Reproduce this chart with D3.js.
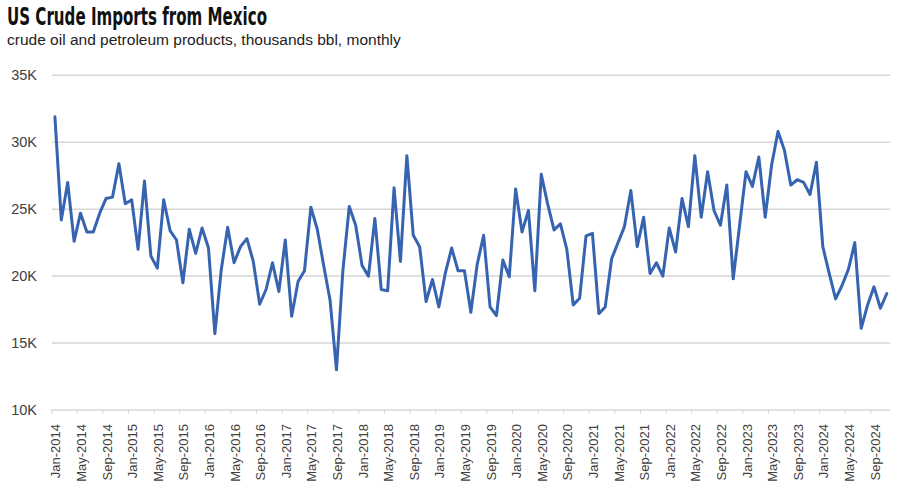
<!DOCTYPE html>
<html>
<head>
<meta charset="utf-8">
<script src="https://cdn.jsdelivr.net/npm/d3@7/dist/d3.min.js"></script>
<style>
  html, body { margin: 0; padding: 0; background: #fff; }
  svg { display: block; }
</style>
</head>
<body>
<svg id="chart" width="900" height="496"></svg>
<script>
// ---- data (thousands bbl, monthly, Jan-2014 .. Nov-2024) ----
const monthNames = ["Jan","Feb","Mar","Apr","May","Jun","Jul","Aug","Sep","Oct","Nov","Dec"];
const startYear = 2014;
const values = [
  31.9, 24.2, 27.0, 22.6, 24.7, 23.3, 23.3, 24.7, 25.8, 25.9, 28.4, 25.4,
  25.7, 22.0, 27.1, 21.5, 20.6, 25.7, 23.4, 22.7, 19.5, 23.5, 21.7, 23.6,
  22.1, 15.7, 20.5, 23.65, 21.0, 22.2, 22.8, 21.1, 17.9, 19.0, 21.0, 18.85,
  22.7, 17.0, 19.6, 20.4, 25.15, 23.5, 20.8, 18.2, 13.0, 20.4, 25.2, 23.8,
  20.8, 20.0, 24.3, 19.0, 18.9, 26.6, 21.1, 29.0, 23.05, 22.2, 18.1, 19.75,
  17.7, 20.2, 22.1, 20.4, 20.4, 17.3, 20.9, 23.05, 17.7, 17.05, 21.2, 19.95,
  26.5, 23.3, 24.9, 18.9, 27.6, 25.4, 23.45, 23.9, 22.0, 17.85, 18.35, 23.0,
  23.2, 17.2, 17.7, 21.3, 22.5, 23.7, 26.4, 22.2, 24.4, 20.2, 21.0, 20.0,
  23.6, 21.8, 25.8, 23.7, 29.0, 24.4, 27.8, 24.9, 23.8, 26.8, 19.8, 23.8,
  27.8, 26.7, 28.9, 24.4, 28.3, 30.8, 29.4, 26.8, 27.2, 27.0, 26.1, 28.5,
  22.2, 20.2, 18.3, 19.3, 20.5, 22.5, 16.1, 17.85, 19.2, 17.6, 18.7
];
const categories = values.map((v, i) => monthNames[i % 12] + "-" + (startYear + Math.floor(i / 12)));
const yTicks = [10, 15, 20, 25, 30, 35];
const yTickLabels = ["10K", "15K", "20K", "25K", "30K", "35K"];
const title = "US Crude Imports from Mexico";
const subtitle = "crude oil and petroleum products, thousands bbl, monthly";

// ---- layout ----
const svg = d3.select("#chart");
const plotLeft = 51.7, plotRight = 890, plotTop = 75.3, plotBottom = 410;

const x = d3.scaleBand().domain(categories).range([plotLeft, plotRight]).paddingInner(0).paddingOuter(0);
const y = d3.scaleLinear().domain([10, 35]).range([plotBottom, plotTop]);

// title & subtitle
svg.append("text")
  .attr("x", 7).attr("y", 25)
  .attr("font-family", "'DejaVu Sans Condensed', 'DejaVu Sans', sans-serif")
  .attr("font-stretch", "condensed")
  .attr("font-weight", "bold")
  .attr("font-size", 24)
  .attr("fill", "#111")
  .attr("textLength", 260).attr("lengthAdjust", "spacingAndGlyphs")
  .text(title);

svg.append("text")
  .attr("x", 7).attr("y", 45)
  .attr("font-family", "'Liberation Sans', Arial, sans-serif")
  .attr("font-size", 15.5)
  .attr("fill", "#222")
  .text(subtitle);

// gridlines
svg.append("g").selectAll("line").data(yTicks).join("line")
  .attr("x1", plotLeft).attr("x2", plotRight)
  .attr("y1", d => y(d)).attr("y2", d => y(d))
  .attr("stroke", "#d6d6d6").attr("stroke-width", 1.5);

// y labels
svg.append("g").selectAll("text").data(yTicks).join("text")
  .attr("x", 37).attr("y", d => y(d)).attr("dy", "0.35em")
  .attr("text-anchor", "end")
  .attr("font-family", "'Liberation Sans', Arial, sans-serif")
  .attr("font-size", 14.5)
  .attr("fill", "#404040")
  .text((d, i) => yTickLabels[i]);

// x axis tick marks (every 4 categories at boundaries)
const tickIdx = d3.range(0, categories.length, 4);
svg.append("g").selectAll("line").data(tickIdx).join("line")
  .attr("x1", i => x(categories[i])).attr("x2", i => x(categories[i]))
  .attr("y1", plotBottom).attr("y2", plotBottom + 4)
  .attr("stroke", "#d6d6d6").attr("stroke-width", 1);

// x labels
svg.append("g").selectAll("text").data(tickIdx).join("text")
  .attr("transform", i => `translate(${x(categories[i]) + x.bandwidth() / 2 + 1},${plotBottom + 14}) rotate(-90)`)
  .attr("dy", "0.35em")
  .attr("text-anchor", "end")
  .attr("font-family", "'Liberation Sans', Arial, sans-serif")
  .attr("font-size", 13)
  .attr("fill", "#404040")
  .text(i => categories[i]);

// line
const line = d3.line()
  .x((d, i) => x(categories[i]) + x.bandwidth() / 2)
  .y(d => y(d));

svg.append("path")
  .datum(values)
  .attr("d", line)
  .attr("fill", "none")
  .attr("stroke", "#3664b0")
  .attr("stroke-width", 3)
  .attr("stroke-linejoin", "round")
  .attr("stroke-linecap", "round");
</script>
</body>
</html>
